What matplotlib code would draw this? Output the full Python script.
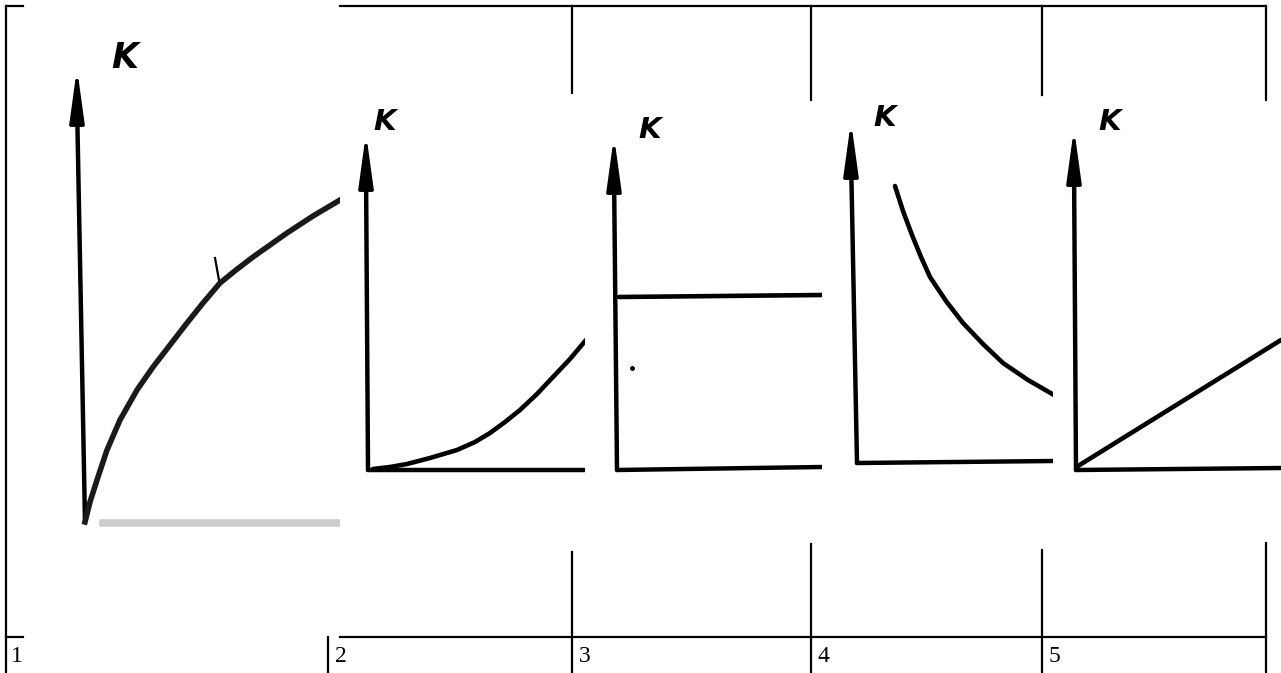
import matplotlib.pyplot as plt
from matplotlib.patches import FancyArrowPatch
import numpy as np

W, H = 1281, 673

# column labels of the bottom row
labels = ["1", "2", "3", "4", "5"]

# curve data, in units of 100 px measured from each panel origin (x right, K up)
p1_x = [0.0, 0.05, 0.12, 0.22, 0.35, 0.52, 0.68, 0.85, 1.02, 1.18, 1.35,
        1.51, 1.68, 1.85, 2.02, 2.28, 2.55]
p1_k = [0.0, 0.20, 0.42, 0.72, 1.02, 1.32, 1.55, 1.77, 1.99, 2.19, 2.39,
        2.52, 2.65, 2.77, 2.89, 3.06, 3.22]

p2_x = [0.05, 0.22, 0.39, 0.62, 0.89, 1.07, 1.22, 1.37, 1.52, 1.69, 1.85, 2.02, 2.18]
p2_k = [0.01, 0.03, 0.06, 0.12, 0.20, 0.28, 0.37, 0.48, 0.60, 0.76, 0.93, 1.11, 1.30]

p3_x = [0.02, 2.05]
p3_k = [1.73, 1.75]

p4_x = [0.38, 0.46, 0.55, 0.64, 0.73, 0.89, 1.06, 1.26, 1.46, 1.71, 1.97]
p4_k = [2.77, 2.52, 2.28, 2.06, 1.86, 1.62, 1.40, 1.19, 1.00, 0.83, 0.68]

p5_x = [0.02, 2.05]
p5_k = [0.04, 1.30]

# panel layout: pixel box (left, top, right, bottom), origin pixel,
# y-axis top point, x-axis end point, K label position (data units)
panels = [
    dict(box=(23, 7, 340, 637), origin=(85, 522), ytop=(-0.08, 4.54), xend=None,
         klabel=(0.40, 4.64), x=p1_x, k=p1_k, ksize=25),
    dict(box=(340, 95, 585, 550), origin=(368, 470), ytop=(-0.02, 3.37), xend=(2.17, 0.0),
         klabel=(0.17, 3.48), x=p2_x, k=p2_k, ksize=21),
    dict(box=(585, 95, 822, 550), origin=(617, 470), ytop=(-0.03, 3.34), xend=(2.05, 0.03),
         klabel=(0.33, 3.40), x=p3_x, k=p3_k, ksize=21),
    dict(box=(822, 95, 1053, 550), origin=(857, 463), ytop=(-0.06, 3.42), xend=(1.96, 0.02),
         klabel=(0.28, 3.45), x=p4_x, k=p4_k, ksize=21),
    dict(box=(1053, 95, 1281, 550), origin=(1076, 470), ytop=(-0.02, 3.42), xend=(2.05, 0.02),
         klabel=(0.34, 3.48), x=p5_x, k=p5_k, ksize=21),
]

fig = plt.figure(figsize=(W / 100, H / 100), dpi=100)

# ---------------------------------------------------------------------------
# Table grid (pixel coordinates)
# ---------------------------------------------------------------------------
grid = fig.add_axes([0, 0, 1, 1])
grid.set_xlim(0, W)
grid.set_ylim(H, 0)
grid.axis("off")

lw_grid = 1.6
grid.plot([6, 6], [6, H], color="k", lw=lw_grid)
grid.plot([6, 23], [6, 6], color="k", lw=lw_grid)
grid.plot([340, 1266], [6, 6], color="k", lw=lw_grid)
grid.plot([6, 23], [637, 637], color="k", lw=lw_grid)
grid.plot([340, 1266], [637, 637], color="k", lw=lw_grid)
grid.plot([328, 328], [637, H], color="k", lw=lw_grid)
for xv, top_end, bot_start in [(572, 93, 552), (811, 100, 544), (1042, 95, 550), (1266, 100, 543)]:
    grid.plot([xv, xv], [6, top_end], color="k", lw=lw_grid)
    grid.plot([xv, xv], [bot_start, H], color="k", lw=lw_grid)

for xl, lab in zip([11, 335, 579, 817, 1049], labels):
    grid.text(xl, 656, lab, fontsize=17, family="Liberation Serif",
              ha="left", va="center")

# ---------------------------------------------------------------------------
# The five hand-drawn graphs
# ---------------------------------------------------------------------------
for i, p in enumerate(panels):
    l, t, r, b = p["box"]
    ox, oy = p["origin"]
    ax = fig.add_axes([l / W, 1 - b / H, (r - l) / W, (b - t) / H])
    ax.set_xlim((l - ox) / 100, (r - ox) / 100)
    ax.set_ylim((oy - b) / 100, (oy - t) / 100)
    ax.axis("off")

    # K axis with arrow head
    yx, yy = p["ytop"]
    ax.plot([0, yx], [0, yy - 0.35], color="k", lw=3.2, solid_capstyle="round")
    ax.add_patch(FancyArrowPatch((yx, yy - 0.55), (yx, yy),
                                 arrowstyle="-|>,head_length=1.6,head_width=0.22",
                                 mutation_scale=20, color="k", lw=2.5,
                                 shrinkA=0, shrinkB=0))

    # horizontal axis
    if p["xend"] is None:
        ax.plot([0.18, 2.55], [-0.01, -0.01], color="#c8c8c8", lw=5.5, alpha=0.9)
    else:
        ex, ey = p["xend"]
        ax.plot([0, ex], [0, ey], color="k", lw=3.2, solid_capstyle="round")

    if i == 0:
        # small tick on the curve
        ax.plot([1.30, 1.34], [2.64, 2.42], color="k", lw=1.6)
        ax.plot(p["x"], p["k"], color="#1a1a1a", lw=4, solid_joinstyle="round")
    else:
        ax.plot(p["x"], p["k"], color="k", lw=3.3, solid_joinstyle="round",
                solid_capstyle="round")

    if i == 2:
        ax.plot([0.15], [1.02], marker="o", ms=2.5, color="k")

    kx, ky = p["klabel"]
    ax.text(kx, ky, "K", fontsize=p["ksize"], fontweight="bold", style="italic",
            family="DejaVu Sans", ha="center", va="center")

fig.savefig("out.png", dpi=100)
